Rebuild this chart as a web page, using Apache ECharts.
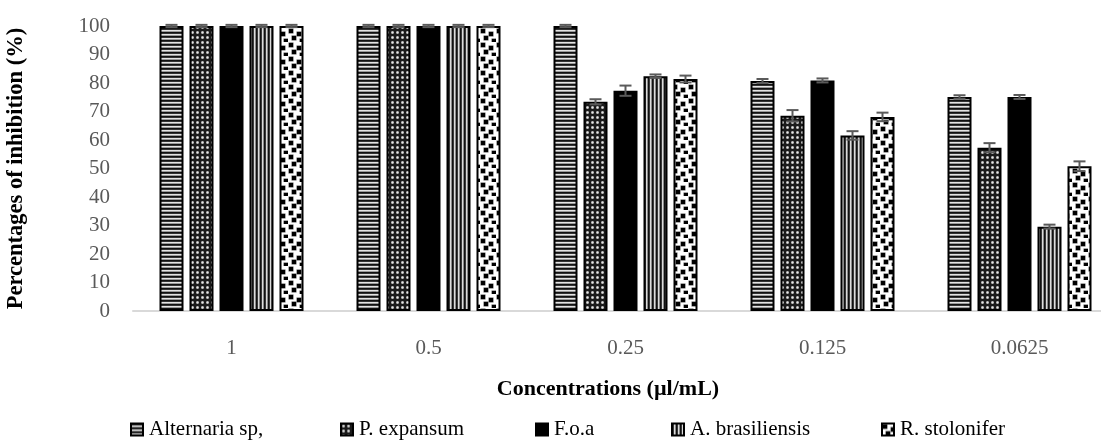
<!DOCTYPE html>
<html>
<head>
<meta charset="utf-8">
<script src="https://cdn.jsdelivr.net/npm/echarts@6/dist/echarts.min.js"></script>
<style>
html,body{margin:0;padding:0;background:#fff;}
#chart{width:1101px;height:440px;}
</style>
</head>
<body>
<div id="chart"></div>
<script>
// ---- data ----
const categories = ['1', '0.5', '0.25', '0.125', '0.0625'];
const seriesNames = ['Alternaria sp,', 'P. expansum', 'F.o.a', 'A. brasiliensis', 'R. stolonifer'];
const alternaria = [100, 100, 100, 80.7, 75.1];
const pExpansum  = [100, 100, 73.4, 68.5, 57.3];
const foa        = [100, 100, 77.3, 80.9, 75.1];
const aBras      = [100, 100, 82.4, 61.6, 29.6];
const rStol      = [100, 100, 81.4, 68.1, 50.8];
const errAlternaria = [0.4, 0.4, 0.4, 0.7, 0.6];
const errPExpansum  = [0.4, 0.4, 0.9, 2.0, 1.6];
const errFoa        = [0.4, 0.4, 1.8, 0.7, 0.7];
const errABras      = [0.4, 0.4, 0.6, 1.5, 0.7];
const errRStol      = [0.4, 0.4, 1.2, 1.5, 1.7];
const yTicks = [0, 10, 20, 30, 40, 50, 60, 70, 80, 90, 100];

const values = [alternaria, pExpansum, foa, aBras, rStol];
const errors = [errAlternaria, errPExpansum, errFoa, errABras, errRStol];

// ---- fill patterns ----
function makePattern(w, h, draw) {
  const c = document.createElement('canvas');
  c.width = w; c.height = h;
  const ctx = c.getContext('2d');
  draw(ctx, w, h);
  return { image: c, repeat: 'repeat' };
}
const hStripes = makePattern(4, 4, (ctx) => {
  const cols = ['#111', '#333', '#e4e4e4', '#9a9a9a'];
  cols.forEach((col, i) => { ctx.fillStyle = col; ctx.fillRect(0, i, 4, 1); });
});
const vStripes = makePattern(4, 4, (ctx) => {
  const cols = ['#111', '#3a3a3a', '#dcdcdc', '#8a8a8a'];
  cols.forEach((col, i) => { ctx.fillStyle = col; ctx.fillRect(i, 0, 1, 4); });
});
const smallDots = makePattern(5, 5, (ctx) => {
  ctx.fillStyle = '#1a1a1a'; ctx.fillRect(0, 0, 5, 5);
  ctx.fillStyle = '#707070'; ctx.fillRect(1, 1, 3, 3);
  ctx.fillStyle = '#e6e6e6'; ctx.fillRect(2, 2, 1, 1);
  ctx.fillStyle = '#b8b8b8'; ctx.fillRect(1, 2, 1, 1); ctx.fillRect(3, 2, 1, 1); ctx.fillRect(2, 1, 1, 1); ctx.fillRect(2, 3, 1, 1);
});
const bigDots = makePattern(16, 14, (ctx) => {
  ctx.fillStyle = '#fff'; ctx.fillRect(0, 0, 16, 14);
  const spots = [[1, 1], [9, 4], [4, 8], [12, 11]];
  spots.forEach(([x, y]) => {
    ctx.fillStyle = '#555'; ctx.fillRect(x - 0.5, y - 0.5, 5, 5);
    ctx.fillStyle = '#000'; ctx.fillRect(x, y, 4, 4);
  });
});
const fills = [hStripes, smallDots, '#000', vStripes, bigDots];

const BAR_W = 24, BAR_STEP = 30;

const series = [];
seriesNames.forEach((name, s) => {
  series.push({
    name: name,
    type: 'bar',
    data: values[s],
    barWidth: BAR_W,
    barGap: '25%',
    itemStyle: { color: fills[s], borderColor: '#000', borderWidth: 2 },
    emphasis: { disabled: true },
    z: 2
  });
});
seriesNames.forEach((name, s) => {
  series.push({
    name: name + ' err',
    type: 'custom',
    z: 5,
    clip: false,
    data: values[s].map((v, i) => [i, v, errors[s][i]]),
    renderItem: function (params, api) {
      const cat = api.value(0), v = api.value(1), e = api.value(2);
      const top = api.coord([cat, v + e]);
      const bot = api.coord([cat, v - e]);
      const x = top[0] + (s - 2) * BAR_STEP;
      const hw = 6;
      const st = { stroke: '#5a5a5a', lineWidth: 2 };
      return {
        type: 'group',
        children: [
          { type: 'line', shape: { x1: x, y1: top[1], x2: x, y2: bot[1] }, style: st },
          { type: 'line', shape: { x1: x - hw, y1: top[1], x2: x + hw, y2: top[1] }, style: st },
          { type: 'line', shape: { x1: x - hw, y1: bot[1], x2: x + hw, y2: bot[1] }, style: st }
        ]
      };
    }
  });
});

const legendLefts = [125, 335, 530, 666, 876];
const legends = seriesNames.map((name, i) => ({
  data: [name],
  left: legendLefts[i],
  top: 414,
  orient: 'horizontal',
  icon: 'rect',
  itemWidth: 12,
  itemHeight: 12,
  selectedMode: false,
  textStyle: { color: '#000', fontSize: 21, fontFamily: 'Liberation Serif', padding: [0, 0, 0, 1] }
}));

const chart = echarts.init(document.getElementById('chart'), null, { renderer: 'canvas' });
chart.setOption({
  animation: false,
  backgroundColor: '#fff',
  grid: { left: 133, top: 26, width: 985, height: 285, outerBoundsMode: 'none', containLabel: false },
  legend: legends,
  xAxis: {
    type: 'category',
    data: categories,
    axisLine: { show: true, lineStyle: { color: '#d9d9d9', width: 2 } },
    axisTick: { show: false },
    axisLabel: { color: '#595959', fontSize: 21, fontFamily: 'Liberation Serif', margin: 27 },
    splitLine: { show: false }
  },
  yAxis: {
    type: 'value',
    min: yTicks[0],
    max: yTicks[yTicks.length - 1],
    interval: yTicks[1] - yTicks[0],
    axisLine: { show: false },
    axisTick: { show: false },
    splitLine: { show: false },
    axisLabel: { color: '#595959', fontSize: 21, fontFamily: 'Liberation Serif', margin: 23 },
    name: 'Percentages of inhibition (%)',
    nameLocation: 'middle',
    nameGap: 105,
    nameRotate: 90,
    nameTextStyle: { color: '#000', fontSize: 22.5, fontWeight: 'bold', fontFamily: 'Liberation Serif' }
  },
  graphic: [{
    type: 'text',
    x: 608,
    y: 389,
    style: {
      text: 'Concentrations (µl/mL)',
      fill: '#000',
      font: 'bold 22px "Liberation Serif"',
      textAlign: 'center',
      textVerticalAlign: 'middle'
    }
  }],
  series: series
});
</script>
</body>
</html>
